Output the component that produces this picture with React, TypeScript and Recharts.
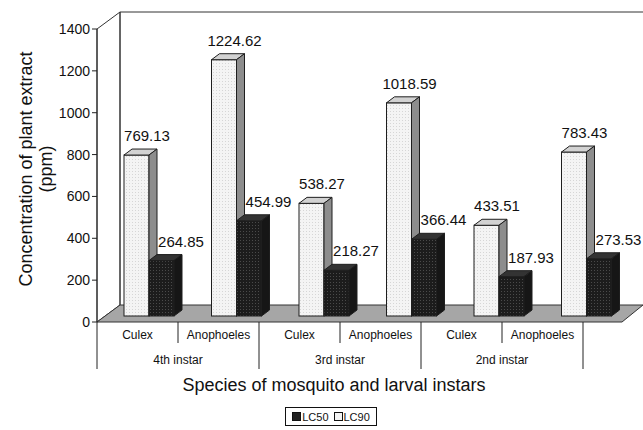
import React from 'react';
import { Bar, BarChart, LabelList, Legend, XAxis, YAxis } from 'recharts';

const species = ['Culex', 'Anophoeles', 'Culex', 'Anophoeles', 'Culex', 'Anophoeles'];
const instars = ['4th instar', '4th instar', '3rd instar', '3rd instar', '2nd instar', '2nd instar'];
const lc50 = [264.85, 454.99, 218.27, 366.44, 187.93, 273.53];
const lc90 = [769.13, 1224.62, 538.27, 1018.59, 433.51, 783.43];
const yTicks = [0, 200, 400, 600, 800, 1000, 1200, 1400];

const data = species.map((s, i) => ({
  key: `${instars[i]}-${s}-${i}`,
  species: s,
  instar: instars[i],
  lc50: lc50[i],
  lc90: lc90[i],
}));

const W = 643;
const H = 430;
const FONT = '"Liberation Sans", Arial, sans-serif';
const PLOT_BOTTOM = 322;

// 3d offsets
const SHIFT_X = 8;
const SHIFT_Y = 6;
const DEPTH_X = 8;
const DEPTH_Y = 6;

function Box3D(props: any) {
  const { x, y, width, height, tone } = props;
  const X = Number(x) + SHIFT_X;
  const Y = Number(y) - SHIFT_Y;
  const w = Number(width);
  const h = Number(height);
  const bottom = Y + h;
  const light = tone === 'light';
  const front = light ? 'url(#lightDots)' : 'url(#darkDots)';
  const top = light ? '#d2d2d2' : '#333333';
  const side = light ? '#8d8d8d' : '#161616';
  const stroke = '#1e1e1e';
  return (
    <g>
      <rect x={X} y={Y} width={w} height={h} fill={front} stroke={stroke} strokeWidth={1} />
      <polygon
        points={`${X},${Y} ${X + DEPTH_X},${Y - DEPTH_Y} ${X + w + DEPTH_X},${Y - DEPTH_Y} ${X + w},${Y}`}
        fill={top}
        stroke={stroke}
        strokeWidth={1}
      />
      <polygon
        points={`${X + w},${Y} ${X + w + DEPTH_X},${Y - DEPTH_Y} ${X + w + DEPTH_X},${bottom - DEPTH_Y} ${X + w},${bottom}`}
        fill={side}
        stroke={stroke}
        strokeWidth={1}
      />
    </g>
  );
}

function valueLabel(dxCenter: number) {
  return (p: any) => {
    const cx = Number(p.x) + SHIFT_X + dxCenter;
    const cy = Number(p.y) - SHIFT_Y - 19;
    return (
      <text x={cx} y={cy + 5} textAnchor="middle" fontSize={15} fontFamily={FONT} fill="#111">
        {Number(p.value).toFixed(2)}
      </text>
    );
  };
}

function SpeciesTick(props: any) {
  const { x, payload } = props;
  const i = payload.index;
  const half = payload.offset > 0 ? payload.offset : 40.5;
  const cx = Number(x);
  const groupEnd = i % 2 === 1;
  return (
    <g>
      <text x={cx} y={339} textAnchor="middle" fontSize={12} fontFamily={FONT} fill="#111">
        {payload.value}
      </text>
      {i === 0 && <line x1={cx - half} y1={PLOT_BOTTOM} x2={cx - half} y2={369} stroke="#222" />}
      <line x1={cx + half} y1={PLOT_BOTTOM} x2={cx + half} y2={groupEnd ? 369 : 343} stroke="#222" />
      {!groupEnd && (
        <text x={cx + half} y={364} textAnchor="middle" fontSize={12} fontFamily={FONT} fill="#111">
          {instars[i]}
        </text>
      )}
    </g>
  );
}

function YTitle() {
  const cy = 169;
  return (
    <g fontFamily={FONT} fontSize={18} fill="#111">
      <text x={26} y={cy} textAnchor="middle" dominantBaseline="central" transform={`rotate(-90, 26, ${cy})`}>
        Concentration of plant extract
      </text>
      <text x={46} y={cy} textAnchor="middle" dominantBaseline="central" transform={`rotate(-90, 46, ${cy})`}>
        (ppm)
      </text>
    </g>
  );
}

function XTitle() {
  return (
    <text x={334} y={391} textAnchor="middle" fontSize={18} fontFamily={FONT} fill="#111">
      Species of mosquito and larval instars
    </text>
  );
}

function LegendBox() {
  const sw = (fill: string) => (
    <span
      style={{
        display: 'inline-block',
        width: 7,
        height: 7,
        border: '1px solid #111',
        background: fill,
        marginRight: 1,
      }}
    />
  );
  return (
    <div style={{ width: W, height: 20, display: 'flex', justifyContent: 'center', paddingLeft: 19, boxSizing: 'border-box' }}>
      <div
        style={{
          border: '1px solid #111',
          height: 19,
          boxSizing: 'border-box',
          display: 'flex',
          alignItems: 'center',
          padding: '0 6px',
          fontFamily: FONT,
          fontSize: 11,
          color: '#111',
        }}
      >
        {sw('#222')}
        <span style={{ marginRight: 5 }}>LC50</span>
        {sw('#f4f4f4')}
        <span>LC90</span>
      </div>
    </div>
  );
}

function Frame() {
  return (
    <svg width={W} height={H} style={{ position: 'absolute', left: 0, top: 0 }}>
      <defs>
        <pattern id="lightDots" width="3" height="3" patternUnits="userSpaceOnUse">
          <rect width="3" height="3" fill="#f4f4f4" />
          <rect width="1" height="1" fill="#d6d6d6" />
        </pattern>
        <pattern id="darkDots" width="3" height="3" patternUnits="userSpaceOnUse">
          <rect width="3" height="3" fill="#1c1c1c" />
          <rect width="1" height="1" fill="#4a4a4a" />
        </pattern>
      </defs>
      <polygon points="97,29 120,12 120,305 97,322" fill="#fff" stroke="#333" />
      <polyline points="120,305 120,12 643,12" fill="none" stroke="#333" />
      <polygon points="97,322 120,305 643,305 622,322" fill="#a6a6a6" stroke="#333" />
    </svg>
  );
}

export default function App() {
  return (
    <div style={{ position: 'absolute', left: 0, top: 0, width: W, height: H, background: '#fff' }}>
      <Frame />
      <div style={{ position: 'absolute', left: 0, top: 0 }}>
        <BarChart
          width={W}
          height={H}
          data={data}
          margin={{ top: 29, right: 21, bottom: 3, left: 37 }}
          barGap={0}
          barSize={25}
        >
          <XAxis xAxisId="bars" dataKey="key" hide />
          <XAxis
            xAxisId="species"
            dataKey="species"
            height={85}
            axisLine={false}
            tickLine={false}
            interval={0}
            padding={{ left: 0, right: 39 }}
            tick={<SpeciesTick />}
            label={XTitle}
          />
          <YAxis
            width={60}
            domain={[0, 1400]}
            ticks={yTicks}
            interval={0}
            tickSize={5}
            tickMargin={2}
            axisLine={{ stroke: '#222' }}
            tickLine={{ stroke: '#222' }}
            tick={{ fontSize: 14, fontFamily: FONT, fill: '#111' }}
            label={YTitle}
          />
          <Legend verticalAlign="bottom" content={<LegendBox />} wrapperStyle={{ left: 0, width: W, height: 20 }} />
          <Bar
            xAxisId="bars"
            dataKey="lc90"
            name="LC90"
            fill="#f4f4f4"
            isAnimationActive={false}
            shape={(p: any) => <Box3D {...p} tone="light" />}
          >
            <LabelList dataKey="lc90" content={valueLabel(23)} />
          </Bar>
          <Bar
            xAxisId="bars"
            dataKey="lc50"
            name="LC50"
            fill="#222"
            isAnimationActive={false}
            shape={(p: any) => <Box3D {...p} tone="dark" />}
          >
            <LabelList dataKey="lc50" content={valueLabel(32)} />
          </Bar>
        </BarChart>
      </div>
    </div>
  );
}
